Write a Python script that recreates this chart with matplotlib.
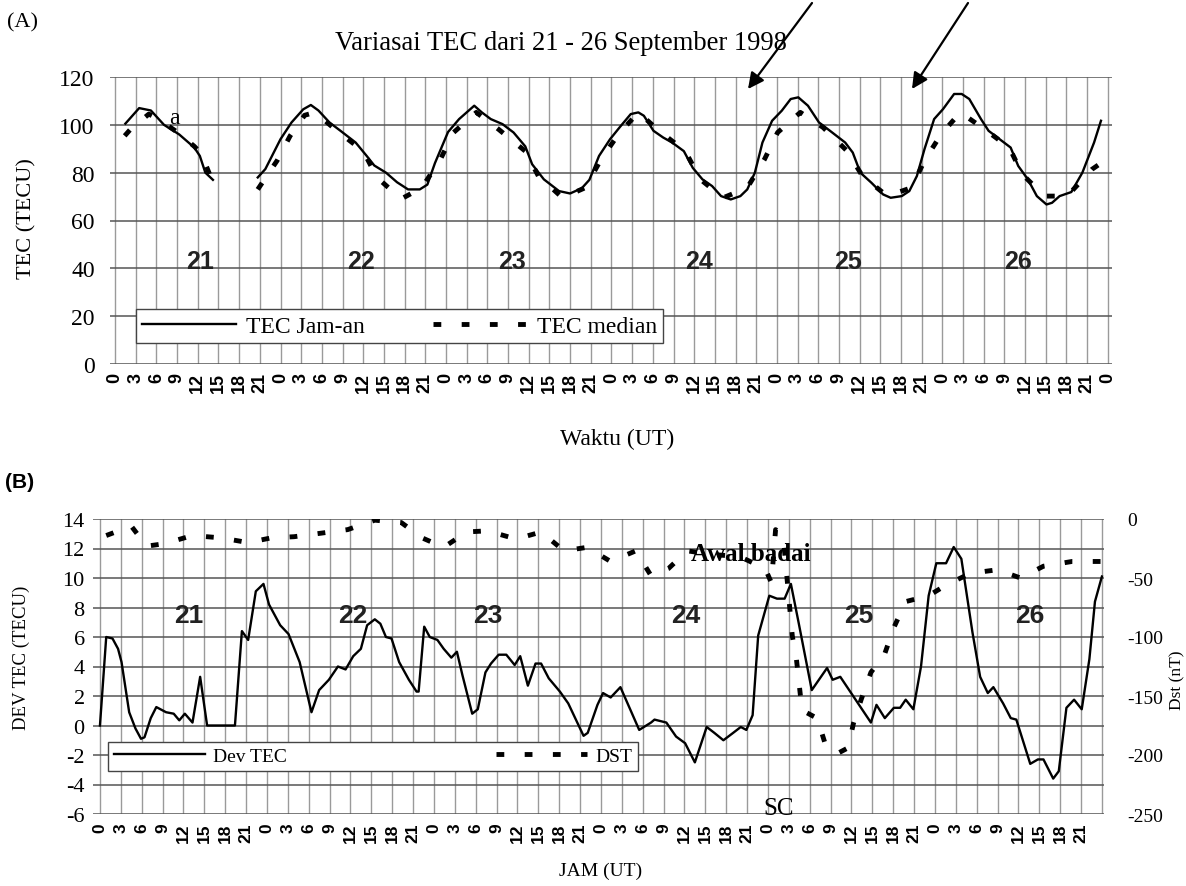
import numpy as np
import matplotlib
matplotlib.use("Agg")
import matplotlib.pyplot as plt

plt.rcParams["axes.unicode_minus"] = False

W, H = 1186, 887
SERIF = "Liberation Serif"
SANS = "Liberation Sans"

# hours counted from 21 Sep 1998 00 UT
TICK_HOURS = np.arange(0, 145, 3)
DAYS = [21, 22, 23, 24, 25, 26]

# --- Panel A: TEC hourly vs median (TECU) ---
TEC_HOURS = [1.5, 3.5, 5.2, 7.1, 9.3, 11.5, 12.3, 13.1, 14.2, 17.0,
             20.7, 21.8, 24.0, 25.6, 27.3, 28.4, 29.5, 31.1, 32.7, 34.9,
             36.5, 37.6, 39.3, 40.9, 42.5, 44.2, 45.3, 46.4, 48.3, 49.9,
             52.1, 53.2, 54.5, 56.2, 57.8, 59.5, 60.5, 62.2, 64.4, 66.0,
             67.7, 68.8, 70.2, 71.8, 73.2, 74.8, 75.9, 76.7, 78.1, 79.5,
             80.8, 82.5, 83.8, 85.2, 86.6, 87.9, 89.3, 90.7, 91.7, 92.8,
             93.9, 95.3, 96.7, 98.0, 99.1, 100.5, 102.1, 103.7, 105.9, 107.0,
             108.1, 109.7, 111.4, 112.5, 114.1, 115.2, 116.3, 117.4, 118.8, 120.1,
             121.7, 122.8, 123.9, 125.6, 126.7, 128.3, 129.9, 131.0, 132.4, 133.7,
             135.1, 135.9, 137.0, 138.7, 140.3, 142.0, 143.0]
TEC_VALUES = [100.5, 107, 106, 100, 96, 90.5, 87, 80, 77, np.nan,
              78, 81.5, 94, 101, 106.5, 108.3, 106, 101, 97.5, 92.6,
              87, 83, 80, 76, 73, 73, 75, 84, 97, 102.4,
              108, 105.2, 102.4, 100.3, 96.8, 91, 83.5, 77.2, 72.3, 71.3,
              73.5, 77, 87, 94, 99, 104.5, 105.2, 103.8, 97.5, 94.7,
              92.6, 89, 82, 77.2, 74.4, 70.2, 68.8, 70.2, 73, 80,
              92.6, 101.7, 105.9, 110.8, 111.5, 108, 101, 97.5, 92.6, 88.4,
              80, 75.8, 70.9, 69.5, 70.2, 72.3, 78.6, 89.8, 102.4, 106.6,
              112.9, 112.9, 110.8, 102.4, 97.5, 94, 90.5, 82.8, 77.2, 70.2,
              66.7, 67.4, 70.2, 71.9, 80, 92.6, 101.7]

MED_HOURS = [1.4, 2.2, 4.9, 6.3, 9.0, 11.5, 12.5, 13.9, 17.0,
             20.7, 23.5, 25.4, 27.5, 29.0, 32.2, 36.0, 38.0, 41.5, 44.5,
             47.2, 49.1, 52.4, 55.6, 59.5, 61.4, 64.9, 68.2, 70.5, 73.0,
             75.9, 78.9, 82.7, 84.9, 88.2, 91.7, 94.2, 96.1, 99.4, 102.7,
             106.2, 108.4, 112.0, 115.5, 117.4, 119.8, 122.6, 126.1, 129.7, 131.6,
             134.8, 138.1, 141.7, 143.0]
MED_VALUES = [95.4, 98, 104.5, 102.4, 97, 91, 88, 78, np.nan,
              73, 85, 95.4, 104, 105.2, 97.5, 89, 78, 69, 73.7,
              85.6, 96.8, 105.2, 98.2, 89, 78.6, 69.5, 73.7, 85.6, 96,
              105.2, 97.5, 89, 77.2, 69.5, 73.7, 85.6, 96.8, 105.2, 98.9,
              89, 78.6, 70.2, 73.7, 85, 96, 105.2, 98.2, 90.5, 79.3,
              70.2, 70.2, 81.4, 84]

DAY_POS_A = [12.3, 35.7, 57.6, 84.7, 106.3, 130.9]

# --- Panel B: deviation of TEC (TECU) and Dst (nT) ---
DEV_HOURS = [0.0, 0.9, 1.8, 2.6, 3.1, 4.2, 5.1, 5.9, 6.4, 7.3,
             8.1, 9.5, 10.6, 11.4, 12.2, 13.3, 14.4, 15.4, 19.4, 20.4,
             21.3, 22.4, 23.5, 24.3, 25.9, 27.1, 28.7, 30.4, 31.5, 32.9,
             34.2, 35.3, 36.4, 37.5, 38.4, 39.5, 40.3, 41.1, 41.9, 43.0,
             44.4, 45.5, 45.8, 46.6, 47.4, 48.5, 49.4, 50.5, 51.3, 52.1,
             53.5, 54.3, 55.4, 56.2, 57.3, 58.4, 59.6, 60.4, 61.5, 62.6,
             63.4, 64.5, 66.1, 67.3, 69.5, 70.1, 71.5, 72.3, 73.4, 74.8,
             76.2, 77.5, 79.2, 79.7, 81.4, 82.8, 84.1, 85.5, 87.2, 88.3,
             89.6, 91.0, 92.1, 92.9, 93.8, 94.6, 96.2, 97.3, 98.4, 99.3,
             100.4, 102.3, 104.5, 105.3, 106.4, 108.6, 110.8, 111.6, 112.8, 114.1,
             115.0, 115.8, 116.9, 118.0, 119.1, 120.2, 121.6, 122.7, 123.8, 125.4,
             126.5, 127.6, 128.4, 129.8, 130.9, 131.7, 133.7, 134.8, 135.6, 137.0,
             137.8, 138.9, 140.0, 141.1, 142.2, 143.0, 144.0]
DEV_VALUES = [0, 6.0, 5.9, 5.2, 4.3, 0.9, -0.2, -0.9, -0.8, 0.5,
              1.25, 0.9, 0.8, 0.35, 0.8, 0.2, 3.3, 0, 0, 6.4,
              5.8, 9.1, 9.6, 8.2, 6.8, 6.2, 4.3, 0.9, 2.4, 3.1,
              4.0, 3.8, 4.7, 5.2, 6.8, 7.2, 6.9, 6.0, 5.9, 4.3,
              3.1, 2.3, 2.3, 6.7, 6.0, 5.8, 5.2, 4.6, 5.0, 3.4,
              0.8, 1.1, 3.6, 4.2, 4.8, 4.8, 4.1, 4.7, 2.7, 4.2,
              4.2, 3.2, 2.3, 1.5, -0.7, -0.5, 1.4, 2.2, 1.9, 2.6,
              1.1, -0.3, 0.2, 0.4, 0.2, -0.75, -1.2, -2.5, -0.1, -0.5,
              -1.0, -0.5, -0.1, -0.3, 0.7, 6.1, 8.8, 8.6, 8.6, 9.6,
              7.0, 2.4, 3.9, 3.1, 3.3, 1.75, 0.2, 1.4, 0.5, 1.2,
              1.2, 1.75, 1.1, 4.0, 8.8, 11.0, 11.0, 12.1, 11.3, 6.3,
              3.3, 2.2, 2.6, 1.5, 0.5, 0.4, -2.6, -2.3, -2.3, -3.6,
              -3.1, 1.2, 1.75, 1.1, 4.5, 8.4, 10.1]

DST_HOURS = [0.9, 4.5, 6.7, 9.2, 13.3, 17.4, 21.3, 24.6, 27.9, 31.8,
             35.6, 39.5, 43.3, 46.3, 49.4, 52.7, 55.7, 59.8, 63.4, 66.7,
             70.0, 73.4, 77.0, 79.2, 81.7, 84.4, 88.0, 92.0, 95.6, 96.5,
             97.1, 98.2, 99.5, 100.1, 100.9, 103.1, 104.2, 105.9, 107.5, 108.3,
             109.4, 110.8, 112.8, 114.1, 115.8, 119.1, 121.6, 125.1, 129.0, 132.3,
             135.6, 139.7, 143.8]
DST_VALUES = [-14, -6, -23, -21, -14, -16, -20, -16, -15, -12,
              -9, -1, -3, -16, -24, -11, -10, -17, -11, -27,
              -24, -36, -27, -48, -42, -27, -30, -32, -42, -54,
              -9, -15, -99, -119, -162, -169, -190, -199, -194, -173,
              -153, -130, -114, -92, -70, -65, -56, -46, -43, -50,
              -40, -36, -36]

DAY_POS_B = [12.8, 36.4, 55.7, 84.2, 109.0, 133.7]


def fig_axes(left, top, right, bottom):
    """axes rectangle from pixel edges of the 1186x887 canvas"""
    return [left / W, 1 - bottom / H, (right - left) / W, (bottom - top) / H]


def style_grid(ax):
    for s in ax.spines.values():
        s.set_visible(False)
    ax.set_axisbelow(True)
    ax.grid(axis="x", color="#9a9a9a", lw=1.0)
    ax.grid(axis="y", color="#555555", lw=1.1)
    ax.tick_params(length=0)


def main():
    fig = plt.figure(figsize=(W / 100, H / 100), dpi=100)
    dash = (0, (1.6, 4.2))

    # ---------------- Panel A ----------------
    axA = fig.add_axes(fig_axes(110, 78, 1112, 365))
    style_grid(axA)
    axA.set_xlim(-0.73, 144.6)
    axA.set_ylim(0, 120)
    axA.set_yticks(np.arange(0, 121, 20))
    axA.set_xticks(TICK_HOURS)
    axA.set_xticklabels([str(h % 24) for h in TICK_HOURS], rotation=90,
                        family=SANS, fontweight="bold", fontsize=13)
    axA.tick_params(axis="x", pad=6)
    axA.tick_params(axis="y", pad=11)
    for t in axA.get_yticklabels():
        t.set_family(SERIF)
        t.set_fontsize(17)

    l1, = axA.plot(TEC_HOURS, TEC_VALUES, "-", color="black", lw=1.7,
                   label="TEC Jam-an")
    l2, = axA.plot(MED_HOURS, MED_VALUES, color="black", lw=3.5,
                   linestyle=dash, dash_capstyle="butt", label="TEC median")
    for d, x in zip(DAYS, DAY_POS_A):
        axA.text(x, 43, str(d), ha="center", va="center", family=SANS,
                 fontweight="bold", fontsize=18, color="#222222")
    axA.text(8.6, 103.1, "a", ha="center", va="center", family=SERIF,
             fontsize=17)
    axA.legend(handles=[l1, l2], loc="center", ncol=2, mode="expand",
               bbox_to_anchor=(0.026, 0.052, 0.526, 0.16), borderaxespad=0,
               prop={"family": SERIF, "size": 17}, handlelength=4.0,
               handletextpad=0.4, frameon=True, fancybox=False,
               edgecolor="#444444", framealpha=1, borderpad=0.25)

    fig.text(22 / W, 1 - 23 / H, "(A)", family=SERIF, fontsize=16,
             ha="center", va="center")
    fig.text(561 / W, 1 - 43 / H, "Variasai TEC dari 21 - 26 September 1998",
             family=SERIF, fontsize=19.2, ha="center", va="center")
    fig.text(27 / W, 1 - 219 / H, "TEC (TECU)", family=SERIF, fontsize=16,
             rotation=90, ha="center", va="center")
    fig.text(617 / W, 1 - 439 / H, "Waktu (UT)", family=SERIF, fontsize=17,
             ha="center", va="center")
    for tail, tip in [((812, 4), (748, 90)), ((968, 4), (912, 90))]:
        axA.annotate("", xy=(tip[0], H - tip[1]), xycoords="figure pixels",
                     xytext=(tail[0], H - tail[1]), textcoords="figure pixels",
                     arrowprops=dict(arrowstyle="-|>", color="black", lw=1.6,
                                     mutation_scale=24, shrinkA=0, shrinkB=0),
                     annotation_clip=False)

    # ---------------- Panel B ----------------
    axB = fig.add_axes(fig_axes(93, 520, 1104, 815))
    style_grid(axB)
    axB.set_xlim(-1.0, 144.3)
    axB.set_ylim(-6, 14)
    axB.set_yticks(np.arange(-6, 15, 2))
    axB.set_xticks(TICK_HOURS)
    axB.set_xticklabels([str(h % 24) if h < 144 else "" for h in TICK_HOURS],
                        rotation=90, family=SANS, fontweight="bold",
                        fontsize=12.5)
    axB.tick_params(axis="x", pad=6)
    axB.tick_params(axis="y", pad=6)
    for t in axB.get_yticklabels():
        t.set_family(SERIF)
        t.set_fontsize(16)

    axB2 = axB.twinx()
    for s in axB2.spines.values():
        s.set_visible(False)
    axB2.set_ylim(-250, 0)
    axB2.set_yticks(np.arange(-250, 1, 50))
    axB2.tick_params(length=0, pad=17)
    for t in axB2.get_yticklabels():
        t.set_family(SERIF)
        t.set_fontsize(14)

    d1, = axB.plot(DEV_HOURS, DEV_VALUES, "-", color="black", lw=1.7,
                   label="Dev TEC")
    d2, = axB2.plot(DST_HOURS, DST_VALUES, color="black", lw=3.5,
                    linestyle=dash, dash_capstyle="butt", label="DST")
    for d, x in zip(DAYS, DAY_POS_B):
        axB.text(x, 7.5, str(d), ha="center", va="center", family=SANS,
                 fontweight="bold", fontsize=19, color="#222222")
    axB.text(85.0, 11.66, "Awal badai", ha="left", va="center", family=SERIF,
             fontweight="bold", fontsize=18)
    axB.text(97.6, -5.56, "SC", ha="center", va="center", family=SERIF,
             fontsize=18)
    axB2.legend(handles=[d1, d2], loc="center", ncol=2, mode="expand",
                bbox_to_anchor=(0.015, 0.135, 0.524, 0.12), borderaxespad=0,
                prop={"family": SERIF, "size": 14}, handlelength=4.7,
                handletextpad=0.4, frameon=True, fancybox=False,
                edgecolor="#444444", framealpha=1, borderpad=0.3)

    fig.text(20 / W, 1 - 482 / H, "(B)", family=SANS, fontweight="bold",
             fontsize=15, ha="center", va="center")
    fig.text(21 / W, 1 - 658 / H, "DEV TEC (TECU)", family=SERIF, fontsize=13.5,
             rotation=90, ha="center", va="center")
    fig.text(1177 / W, 1 - 680 / H, "Dst (nT)", family=SERIF, fontsize=12.5,
             rotation=90, ha="center", va="center")
    fig.text(601 / W, 1 - 871 / H, "JAM (UT)", family=SERIF, fontsize=14,
             ha="center", va="center")

    fig.savefig("out.png", dpi=100)
    plt.close(fig)


if __name__ == "__main__":
    main()
